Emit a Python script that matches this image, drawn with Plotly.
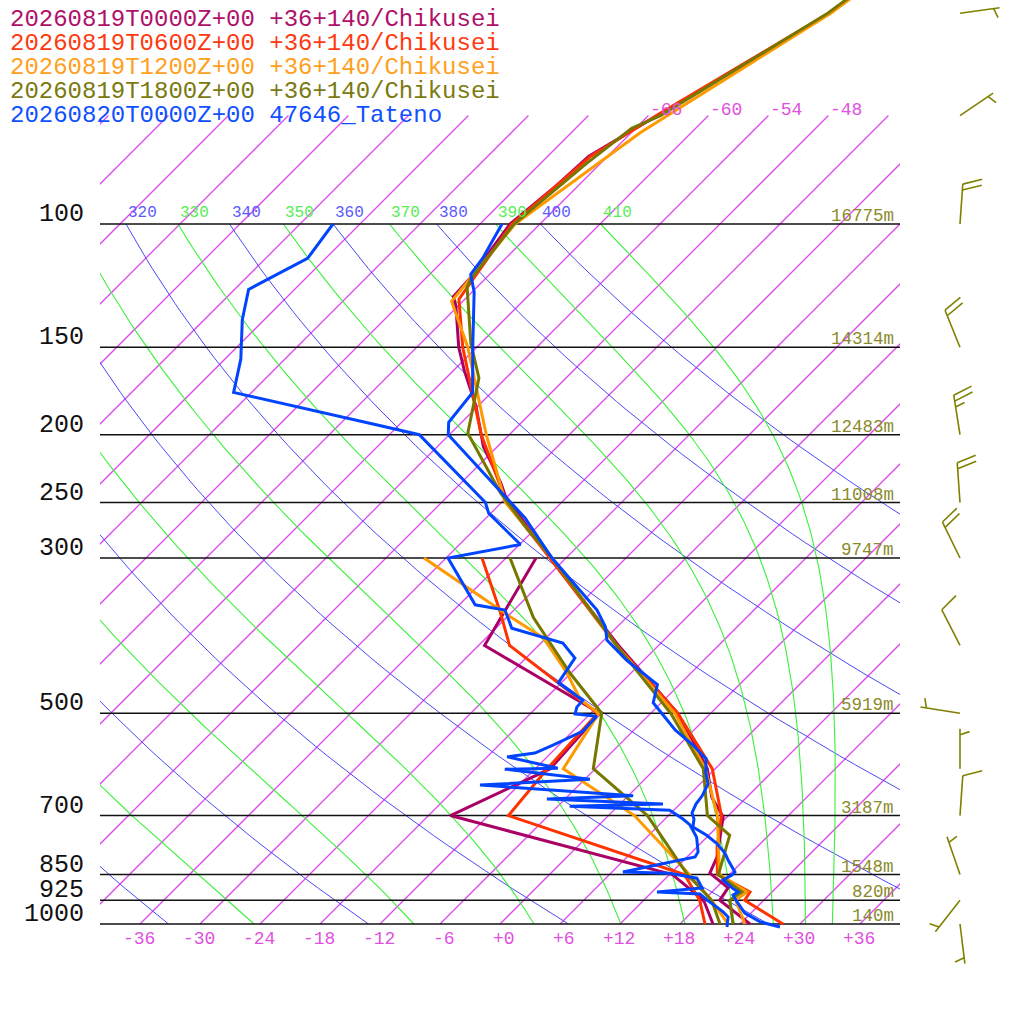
import numpy as np
import plotly.graph_objects as go

FONT = "Liberation Mono"

# ---- model profiles, +36+140/Chikusei (hPa, degC) ----
P_T00 = [1000, 925, 888, 846, 802, 703, 659, 600, 500, 400, 300, 245, 234, 208, 182, 162, 150, 131, 127, 119, 100, 88, 80, 70, 50, 40]
T_00 = [25.0, 19.6, 19.2, 15.9, 15.0, 11.6, 8.5, 5.2, -3.3, -16.0, -31.6, -42.2, -44.1, -49.4, -54.2, -58.9, -61.8, -66.2, -67.4, -67.6, -69.0, -68.2, -67.9, -65.1, -58.1, -55.6]
P_D00 = [1000, 925, 850, 700, 600, 500, 400, 300]
TD_00 = [21.3, 18.0, 12.3, -15.8, -10.5, -11.1, -29.4, -33.0]

P_T06 = [1000, 925, 900, 850, 776, 700, 600, 500, 400, 300, 250, 200, 150, 128, 100, 80, 70, 50, 40]
T_06 = [28.3, 22.1, 21.8, 16.8, 14.0, 11.3, 5.7, -3.3, -16.2, -31.6, -41.5, -50.8, -61.4, -66.6, -68.8, -67.7, -65.2, -58.2, -55.8]
P_D06 = [1000, 925, 850, 700, 600, 500, 400, 359, 300]
TD_06 = [20.5, 17.6, 13.5, -10.0, -10.8, -11.3, -26.9, -31.1, -38.4]

P_T12 = [1000, 925, 900, 850, 700, 600, 500, 400, 300, 250, 200, 150, 129, 100, 74, 50, 40]
T_12 = [24.5, 21.2, 21.5, 17.0, 10.9, 5.0, -3.6, -16.2, -31.4, -41.6, -50.3, -60.9, -67.1, -68.5, -65.1, -58.0, -55.7]
P_D12 = [1000, 925, 850, 700, 600, 500, 478, 438, 390, 364, 300]
TD_12 = [22.8, 18.8, 14.0, 2.6, -9.2, -11.2, -14.4, -18.4, -24.3, -29.7, -44.2]

P_T18 = [1000, 925, 900, 850, 747, 700, 600, 500, 400, 300, 272, 242, 199, 166, 148, 123, 120, 100, 82, 73, 70, 50, 40]
T_18 = [23.3, 20.6, 21.0, 16.9, 14.1, 9.9, 4.8, -4.0, -16.2, -31.4, -36.9, -43.1, -52.3, -56.7, -61.0, -67.0, -67.4, -68.6, -67.4, -66.4, -64.8, -58.3, -55.9]
P_D18 = [1000, 925, 850, 700, 600, 500, 438, 365, 300]
TD_18 = [22.0, 18.8, 13.8, 3.9, -6.2, -10.9, -18.1, -27.3, -35.6]

# ---- 47646 Tateno sounding ----
P_TB = [1010, 993, 965, 930, 909, 900, 888, 865, 851, 843, 810, 792, 767, 747, 727, 708, 694, 674, 656, 631, 607, 581,
        555, 528, 483, 455, 420, 393, 376, 356, 300, 263, 200, 192, 174, 150, 125, 118, 112, 100]
T_B = [28.3, 25.8, 23.4, 21.5, 20.4, 20.6, 19.6, 17.9, 18.3, 18.3, 16.4, 15.4, 13.6, 11.8, 9.6, 8.9, 8.1, 7.6, 7.4, 6.8, 5.4, 4.1,
       1.4, -1.9, -6.8, -8.2, -13.7, -17.7, -19.2, -21.7, -31.4, -38.1, -54.1, -55.3, -55.9, -60.4, -65.8, -67.9, -68.3, -69.8]
P_DB = [1010, 977, 961, 946, 924, 906, 900, 888, 860, 846, 843, 802, 789, 752, 722, 708, 688, 679, 674, 663, 656, 633, 621,
        601, 599, 577, 570, 555, 530, 505, 501, 490, 479, 452, 417, 397, 378, 356, 350, 300, 287, 259, 250, 200, 194, 174,
        156, 137, 124, 112, 100]
TD_B = [23.0, 22.1, 21.1, 20.0, 18.3, 17.0, 12.5, 16.6, 15.1, 11.9, 7.1, 12.8, 12.6, 11.0, 9.1, 7.8, 5.6, -4.8, 4.3, -7.8, 0.5, -15.9, -5.5,
        -15.0, -9.8, -16.0, -13.6, -12.6, -11.0, -11.1, -13.5, -14.0, -14.1, -18.3, -19.1, -21.8, -28.4, -30.9, -34.4, -41.8, -35.9, -42.2,
        -43.6, -57.0, -61.9, -79.8, -82.4, -86.2, -88.6, -85.8, -86.7]

# ---- winds, 1800Z run ----
BARB_P = [50, 70, 100, 150, 200, 250, 300, 400, 500, 600, 700, 850, 925, 1000]
BARB_DIR = [82, 56, 4, 338, 351, 356, 334, 333, 279, 0, 4, 341, 218, 173]
BARB_KT = [5, 5, 20, 20, 25, 20, 20, 10, 5, 5, 10, 5, 5, 5]

LEVELS = [100, 150, 200, 250, 300, 500, 700, 850, 925, 1000]
HEIGHTS = ["16775m", "14314m", "12483m", "11008m", "9747m", "5919m", "3187m", "1548m", "820m", "140m"]

SERIES = [
    ("20260819T0000Z+00 +36+140/Chikusei", "#aa0066", "#b0106a", P_T00, T_00, P_D00, TD_00),
    ("20260819T0600Z+00 +36+140/Chikusei", "#ff3300", "#ff3a10", P_T06, T_06, P_D06, TD_06),
    ("20260819T1200Z+00 +36+140/Chikusei", "#ff9900", "#ffa020", P_T12, T_12, P_D12, TD_12),
    ("20260819T1800Z+00 +36+140/Chikusei", "#777700", "#7a7a10", P_T18, T_18, P_D18, TD_18),
    ("20260820T0000Z+00 47646_Tateno", "#0044ff", "#1050ff", P_TB, T_B, P_DB, TD_B),
]

SKEW = 70.0                  # degC of shift per decade of pressure
LOG_BOT = 3 + 100 / 700
LOG_TOP = 3 - 924 / 700


def skew_x(t, p):
    return np.asarray(t, dtype=float) + SKEW * np.log10(1000.0 / np.asarray(p, dtype=float))


def ypaper(p):
    return float((LOG_BOT - np.log10(p)) / (LOG_BOT - LOG_TOP))


def joined(groups):
    xs, ys = [], []
    for gx, gy in groups:
        xs += [float(v) for v in gx] + [None]
        ys += [float(v) for v in gy] + [None]
    return xs, ys


# moist (pseudo) adiabats
def esat(tc):
    return 6.112 * np.exp(17.67 * tc / (tc + 243.5))


def rsat(tk, p):
    e = esat(tk - 273.15)
    return 0.622 * e / (p - e)


def theta_e(tk, p=1000.0):
    r = rsat(tk, p) * 1000
    return tk * (1000 / p) ** (0.2854 * (1 - 0.28e-3 * r)) * np.exp((3.376 / tk - 0.00254) * r * (1 + 0.81e-3 * r))


def moist_rate(tk, p):
    rs = rsat(tk, p)
    return (287.04 * tk + 2.501e6 * rs) / (1005.7 + 2.501e6 ** 2 * rs * 0.622 / (287.04 * tk ** 2))


def moist_line(te, n=120):
    lo, hi = 180.0, 330.0
    for _ in range(60):
        mid = 0.5 * (lo + hi)
        if theta_e(mid) < te:
            lo = mid
        else:
            hi = mid
    tk = 0.5 * (lo + hi)
    lnp = np.linspace(np.log(1000), np.log(100), n)
    h = lnp[1] - lnp[0]
    out = [tk]
    for lp in lnp[:-1]:
        p = np.exp(lp)
        k1 = moist_rate(tk, p)
        k2 = moist_rate(tk + 0.5 * h * k1, np.exp(lp + 0.5 * h))
        k3 = moist_rate(tk + 0.5 * h * k2, np.exp(lp + 0.5 * h))
        k4 = moist_rate(tk + h * k3, np.exp(lp + h))
        tk = tk + h * (k1 + 2 * k2 + 2 * k3 + k4) / 6
        out.append(tk)
    return np.exp(lnp), np.array(out) - 273.15


fig = go.Figure()
ann = []

# isotherms, one trace each
for t in range(-120, 37, 6):
    fig.add_trace(go.Scatter(x=[float(v) for v in skew_x([t, t], [1000, 70])], y=[1000, 70],
                             mode="lines", line=dict(color="#e048f0", width=1.3), hoverinfo="skip"))

# dry adiabats
pp = np.logspace(3, 2, 80)
dry = list(range(240, 401, 20))
for th in dry:
    fig.add_trace(go.Scatter(x=skew_x(th * (pp / 1000) ** 0.2857 - 273.15, pp), y=pp, mode="lines",
                             line=dict(color="#4a4af4", width=1), hoverinfo="skip"))
    x100 = float(skew_x(th * 0.1 ** 0.2857 - 273.15, 100))
    if x100 > -40:
        ann.append(dict(text=str(th), x=x100, y=ypaper(100), xref="x", yref="paper", xanchor="left",
                        yanchor="bottom", yshift=0, font=dict(family=FONT, size=16, color="#5a5aff")))

# moist adiabats
moist = list(range(250, 411, 20))
for te in moist:
    mp, mt = moist_line(te)
    fig.add_trace(go.Scatter(x=skew_x(mt, mp), y=mp, mode="lines",
                             line=dict(color="#3cf03c", width=1.1), hoverinfo="skip"))
    x100 = float(skew_x(mt[-1], 100))
    if x100 > -40:
        ann.append(dict(text=str(te), x=x100, y=ypaper(100), xref="x", yref="paper", xanchor="left",
                        yanchor="bottom", yshift=0, font=dict(family=FONT, size=16, color="#55ee55")))

# pressure lines
xs, ys = joined([([-40, 40], [p, p]) for p in LEVELS])
fig.add_trace(go.Scatter(x=xs, y=ys, mode="lines", line=dict(color="#111111", width=1.5), hoverinfo="skip"))

# profiles
for name, lc, tc, pt, tt, pd, td in SERIES:
    for p, t in ((pd, td), (pt, tt)):
        fig.add_trace(go.Scatter(x=skew_x(t, p), y=p, mode="lines", name=name,
                                 line=dict(color=lc, width=3, simplify=False), hoverinfo="skip"))

# wind barbs
groups = []
for p0, d, kt in zip(BARB_P, BARB_DIR, BARB_KT):
    a = np.radians(d)
    ux, uy = np.sin(a), np.cos(a)
    fa = np.arctan2(uy, ux) - np.radians(72)
    fx, fy = np.cos(fa), np.sin(fa)

    def pt(dx, dy):
        return 60 + dx, p0 * 10 ** (-dy / 700)

    seg = [pt(0, 0), pt(40 * ux, 40 * uy)]
    groups.append(([s[0] for s in seg], [s[1] for s in seg]))
    full, half = kt // 10, (kt % 10) >= 5
    slot = 0 if full else 1
    for length in [20] * full + ([10] if half else []):
        r = 40 - 6 * slot
        seg = [pt(r * ux, r * uy), pt(r * ux + length * fx, r * uy + length * fy)]
        groups.append(([s[0] for s in seg], [s[1] for s in seg]))
        slot += 1
xs, ys = joined(groups)
fig.add_trace(go.Scatter(x=xs, y=ys, xaxis="x2", yaxis="y", mode="lines",
                         line=dict(color="#808000", width=1.6), hoverinfo="skip"))

# texts
for i, (name, lc, tc, *_rest) in enumerate(SERIES):
    ann.append(dict(text=name, x=8 / 1024, y=(1024 - 19 - 24 * i) / 1024, xref="paper", yref="paper",
                    xanchor="left", yanchor="middle", font=dict(family=FONT, size=24, color=tc)))
for p, h in zip(LEVELS, HEIGHTS):
    ann.append(dict(text=str(p), x=86 / 1024, y=ypaper(p), xref="paper", yref="paper", xanchor="right",
                    yanchor="bottom", yshift=-7, font=dict(family=FONT, size=25, color="#111111")))
    ann.append(dict(text=h, x=896 / 1024, y=ypaper(p), xref="paper", yref="paper", xanchor="right",
                    yanchor="bottom", yshift=-4, font=dict(family=FONT, size=17.5, color="#8a8a2a")))
for t in range(-36, 37, 6):
    ann.append(dict(text=f"{t:+d}", x=t + 1.7, y=(1024 - 938.5) / 1024, xref="x", yref="paper",
                    xanchor="right", yanchor="middle", font=dict(family=FONT, size=18, color="#e050e0")))
for t in (-66, -60, -54, -48):
    ann.append(dict(text=f"{t:+d}", x=float(skew_x(t, 70)), y=ypaper(70), xref="x", yref="paper",
                    xanchor="left", yanchor="bottom", yshift=-6, font=dict(family=FONT, size=18, color="#e050e0")))
for a in ann:
    a["showarrow"] = False

fig.update_layout(
    width=1024, height=1024,
    margin=dict(l=0, r=0, t=0, b=0),
    paper_bgcolor="white", plot_bgcolor="white",
    showlegend=False,
    xaxis=dict(domain=[100 / 1024, 900 / 1024], range=[-40, 40], visible=False),
    xaxis2=dict(domain=[900 / 1024, 1], range=[0, 124], visible=False, anchor="y"),
    yaxis=dict(type="log", range=[LOG_BOT, LOG_TOP], visible=False),
    annotations=ann,
)
fig.write_html("out.html", config={"displayModeBar": False},
               post_script="document.body.style.margin='0px';")
